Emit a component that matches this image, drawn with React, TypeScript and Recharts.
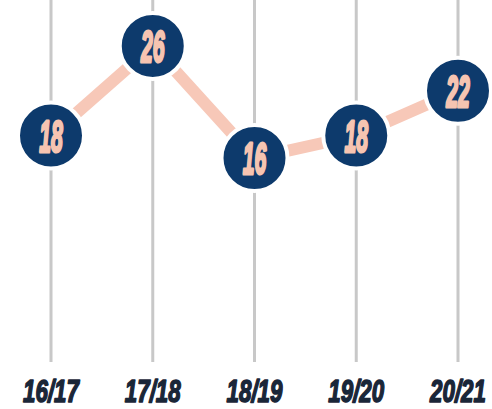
import React from "react";
import { LineChart, Line, XAxis, YAxis, CartesianGrid } from "recharts";

const seasons = ["16/17", "17/18", "18/19", "19/20", "20/21"];
const values = [18, 26, 16, 18, 22];

const data = seasons.map((s, i) => ({ season: s, value: values[i] }));

const NAVY = "#0d3a6c";
const PINK = "#f6c4b1";

const Dot = (props: any) => {
  const { cx, cy, value } = props;
  if (cx == null || cy == null) return null;
  return (
    <g>
      <circle cx={cx} cy={cy} r={33} fill={NAVY} stroke="#ffffff" strokeWidth={4} />
      <g transform={`translate(${cx},${cy + 16}) scale(0.47,1)`}>
        <text
          x={0}
          y={0}
          textAnchor="middle"
          fontFamily="'Liberation Sans', Arial, sans-serif"
          fontWeight="bold"
          fontStyle="italic"
          fontSize={45}
          fill={PINK}
          stroke={PINK}
          strokeWidth={3}
          strokeLinejoin="round"
        >
          {value}
        </text>
      </g>
    </g>
  );
};

const Tick = (props: any) => {
  const { x, payload } = props;
  return (
    <g transform={`translate(${x},402) scale(0.72,1)`}>
      <text
        x={0}
        y={0}
        textAnchor="middle"
        fontFamily="'Liberation Sans', Arial, sans-serif"
        fontWeight="bold"
        fontStyle="italic"
        fontSize={31}
        fill="#1a2638"
        stroke="#1a2638"
        strokeWidth={1.6}
        strokeLinejoin="round"
      >
        {payload.value}
      </text>
    </g>
  );
};

export default function App() {
  return (
    <div style={{ position: "absolute", left: 0, top: 0, width: 492, height: 409, background: "#ffffff" }}>
      <LineChart width={492} height={409} data={data} margin={{ top: 0, right: 34, left: 51, bottom: 0 }}>
        <CartesianGrid vertical={true} horizontal={false} stroke="#c8c8c8" strokeWidth={3} />
        <XAxis
          dataKey="season"
          axisLine={false}
          tickLine={false}
          height={47}
          interval={0}
          tick={<Tick />}
        />
        <YAxis hide domain={[-2.2, 30.1]} />
        <Line
          type="linear"
          dataKey="value"
          stroke="#f7c8b8"
          strokeWidth={12}
          isAnimationActive={false}
          dot={(p: any) => <Dot key={p.index} {...p} />}
          activeDot={false}
        />
      </LineChart>
    </div>
  );
}
